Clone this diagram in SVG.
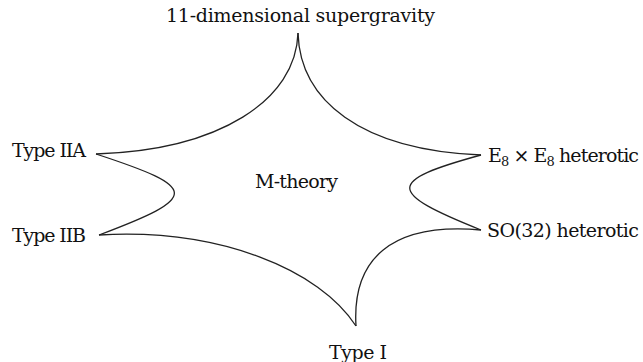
<svg xmlns="http://www.w3.org/2000/svg" width="643" height="362" viewBox="0 0 643 362">
<style>
text { font-family: "DejaVu Serif", "Liberation Serif", serif; font-size: 19px; fill: #111; }
.sub { font-size: 13px; }
.edge { fill: none; stroke: #222; stroke-width: 1.3; }
</style>
<rect width="643" height="362" fill="#fff"/>
<g id="connectors">
  <path class="edge" d="M298,33 C300,100 360,150 481,155"/>
  <path class="edge" d="M298,33 C296,100 220,150 96,154"/>
  <path class="edge" d="M96,154 C200,188 200,197 99,235"/>
  <path class="edge" d="M99,235 C220,228 320,270 356,326"/>
  <path class="edge" d="M356,326 C352,260 390,222 481,230"/>
  <path class="edge" d="M481,155 C386,181 386,192 481,230"/>
</g>
<g id="sugra"><text x="166" y="22" textLength="269">11-dimensional supergravity</text></g>
<g id="iia"><text x="12" y="157" textLength="74">Type IIA</text></g>
<g id="iib"><text x="12" y="242" textLength="74">Type IIB</text></g>
<g id="e8"><text x="488" y="162" textLength="151">E<tspan class="sub" dy="4">8</tspan><tspan dy="-4"> × E</tspan><tspan class="sub" dy="4">8</tspan><tspan dy="-4"> heterotic</tspan></text></g>
<g id="so32"><text x="487" y="237" textLength="152">SO(32) heterotic</text></g>
<g id="typei"><text x="329" y="359" textLength="58">Type I</text></g>
<g id="mtheory"><text x="255" y="188" textLength="83">M-theory</text></g>
</svg>
